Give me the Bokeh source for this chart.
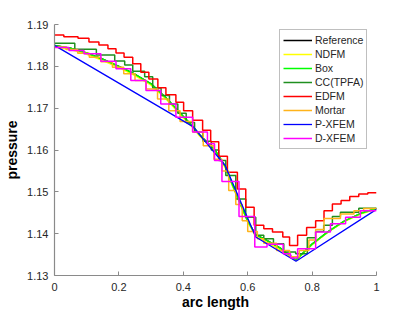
from bokeh.plotting import figure
from bokeh.models import Range1d, FixedTicker
from bokeh.embed import file_html
from bokeh.resources import INLINE

# ---------------- data ----------------
x_ticks = [0, 0.2, 0.4, 0.6, 0.8, 1]
x_tick_labels = ["0", "0.2", "0.4", "0.6", "0.8", "1"]
y_ticks = [1.13, 1.14, 1.15, 1.16, 1.17, 1.18, 1.19]
y_tick_labels = ["1.13", "1.14", "1.15", "1.16", "1.17", "1.18", "1.19"]

ref_x = [0, 0.05, 0.1, 0.15, 0.2, 0.25, 0.3, 0.35, 0.4, 0.43, 0.45, 0.5,
         0.53, 0.55, 0.6, 0.625, 0.65, 0.7, 0.75, 0.8, 0.85, 0.9, 0.95, 1.0]
ref_y = [1.1850, 1.1843, 1.1832, 1.1817, 1.1800, 1.1781, 1.1758, 1.1722,
         1.1680, 1.1656, 1.1637, 1.1598, 1.1561, 1.1522, 1.1430, 1.1397,
         1.1388, 1.1366, 1.1337, 1.1375, 1.1405, 1.1430, 1.1448, 1.1460]

ndfm_y = [1.1846, 1.1840, 1.1829, 1.1814, 1.1797, 1.1778, 1.1755, 1.1719,
          1.1677, 1.1653, 1.1634, 1.1595, 1.1558, 1.1519, 1.1428, 1.1393,
          1.1383, 1.1362, 1.1336, 1.1374, 1.1404, 1.1429, 1.1447, 1.1459]

box_y = [1.1850, 1.1843, 1.1832, 1.1817, 1.1800, 1.1781, 1.1758, 1.1722,
         1.1680, 1.1656, 1.1637, 1.1598, 1.1561, 1.1522, 1.1430, 1.1397,
         1.1388, 1.1366, 1.1337, 1.1375, 1.1405, 1.1430, 1.1448, 1.1460]

cc_edges = [0, 0.063, 0.130, 0.187, 0.218, 0.243, 0.280, 0.305, 0.331, 0.357,
            0.383, 0.409, 0.435, 0.461, 0.487, 0.510, 0.532, 0.563, 0.594,
            0.625, 0.650, 0.680, 0.712, 0.749, 0.785, 0.811, 0.836, 0.863,
            0.888, 0.945, 1.0]
cc_vals = [1.1855, 1.1841, 1.1827, 1.1813, 1.1803, 1.1788, 1.1775, 1.1748,
           1.1730, 1.1710, 1.1688, 1.1666, 1.1643, 1.1621, 1.1600, 1.1575,
           1.1539, 1.1483, 1.1439, 1.1396, 1.1388, 1.1376, 1.1356, 1.1352,
           1.1390, 1.1405, 1.1420, 1.1441, 1.1451, 1.1461]

edfm_edges = [0, 0.029, 0.073, 0.107, 0.138, 0.166, 0.191, 0.216, 0.243,
              0.268, 0.293, 0.321, 0.346, 0.377, 0.401, 0.429, 0.460, 0.485,
              0.510, 0.537, 0.568, 0.594, 0.620, 0.650, 0.677, 0.709, 0.730,
              0.755, 0.783, 0.811, 0.837, 0.863, 0.890, 0.917, 0.945, 0.973, 1.0]
edfm_vals = [1.1875, 1.1871, 1.1867, 1.1858, 1.1851, 1.1842, 1.1832, 1.1822,
             1.1806, 1.1786, 1.1770, 1.1749, 1.1732, 1.1714, 1.1694, 1.1671,
             1.1647, 1.1620, 1.1585, 1.1547, 1.1507, 1.1463, 1.1420, 1.1412,
             1.1404, 1.1392, 1.1372, 1.1396, 1.1415, 1.1431, 1.1455, 1.1471,
             1.1479, 1.1489, 1.1495, 1.1498]

mortar_edges = [0, 0.036, 0.072, 0.108, 0.144, 0.180, 0.215, 0.250, 0.285,
                0.320, 0.355, 0.390, 0.429, 0.462, 0.495, 0.520, 0.541, 0.563,
                0.583, 0.600, 0.630, 0.650, 0.690, 0.730, 0.760, 0.790, 0.811,
                0.837, 0.888, 0.930, 0.960, 1.0]
mortar_vals = [1.1846, 1.1840, 1.1831, 1.1822, 1.1811, 1.1798, 1.1782, 1.1766,
               1.1746, 1.1722, 1.1694, 1.1668, 1.1643, 1.1610, 1.1578, 1.1550,
               1.1503, 1.1470, 1.1431, 1.1405, 1.1388, 1.1377, 1.1360, 1.1345,
               1.1360, 1.1385, 1.1410, 1.1436, 1.1447, 1.1455, 1.1460]

pxfem_x = [0, 0.43, 0.53, 0.625, 0.75, 1.0]
pxfem_y = [1.1850, 1.1656, 1.1563, 1.1392, 1.1334, 1.1458]

dxfem_edges = [0, 0.045, 0.0915, 0.144, 0.191, 0.237, 0.284, 0.330, 0.377,
               0.429, 0.475, 0.497, 0.520, 0.573, 0.622, 0.660, 0.710, 0.733,
               0.755, 0.811, 0.857, 0.904, 0.950, 1.0]
dxfem_vals = [1.1845, 1.1838, 1.1830, 1.1812, 1.1794, 1.1766, 1.1742, 1.1710,
              1.1678, 1.1643, 1.1615, 1.1575, 1.1525, 1.1441, 1.1368, 1.1375,
              1.1352, 1.1342, 1.1364, 1.1404, 1.1424, 1.1439, 1.1455]

# ---------------- figure ----------------
FONT = "Liberation Sans"
p = figure(width=415, height=312, output_backend="svg", toolbar_location=None,
           x_range=Range1d(0, 1), y_range=Range1d(1.13, 1.19),
           min_border_left=54, min_border_right=39,
           min_border_top=24, min_border_bottom=37)
p.grid.visible = False
p.outline_line_color = None

LW = 1.5
p.line(ref_x, ref_y, color="black", line_width=LW, legend_label="Reference")
p.line(ref_x, ndfm_y, color="#ffff00", line_width=LW, legend_label="NDFM")
p.line(ref_x, box_y, color="#00ff00", line_width=LW, legend_label="Box")
p.step(cc_edges, cc_vals + [cc_vals[-1]], mode="after", color="#1f8f1f",
       line_width=LW, legend_label="CC(TPFA)")
p.step(edfm_edges, edfm_vals + [edfm_vals[-1]], mode="after", color="#ff0000",
       line_width=LW, legend_label="EDFM")
p.step(mortar_edges, mortar_vals + [mortar_vals[-1]], mode="after",
       color="#ffb31a", line_width=LW, legend_label="Mortar")
p.line(pxfem_x, pxfem_y, color="#0000ff", line_width=1.3, legend_label="P-XFEM")
p.step(dxfem_edges, dxfem_vals + [dxfem_vals[-1]], mode="after",
       color="#ff00ff", line_width=LW, legend_label="D-XFEM")

for ax, ticks, labels in ((p.xaxis, x_ticks, x_tick_labels),
                          (p.yaxis, y_ticks, y_tick_labels)):
    ax.ticker = FixedTicker(ticks=ticks)
    ax.major_label_overrides = {t: l for t, l in zip(ticks, labels)}
    ax.minor_tick_line_color = None
    ax.major_tick_in = 4
    ax.major_tick_out = 0
    ax.axis_line_color = "#8a8a8a"
    ax.axis_line_width = 1.2
    ax.major_tick_line_color = "#8a8a8a"
    ax.major_label_text_font = FONT
    ax.major_label_text_font_size = "11px"
    ax.major_label_text_color = "#262626"
    ax.axis_label_text_font = FONT
    ax.axis_label_text_font_style = "bold"
    ax.axis_label_text_font_size = "14px"
    ax.axis_label_text_color = "black"

p.xaxis.axis_label = "arc length"
p.yaxis.axis_label = "pressure"
p.xaxis.major_label_standoff = 7
p.xaxis.axis_label_standoff = 0
p.yaxis.major_label_standoff = 6
p.yaxis.axis_label_standoff = 4

lg = p.legend[0]
lg.location = (225, 126)
lg.label_text_font = FONT
lg.label_text_font_size = "10.5px"
lg.label_text_color = "#262626"
lg.label_height = 14
lg.glyph_height = 14
lg.glyph_width = 29
lg.label_standoff = 3
lg.spacing = 0
lg.padding = 3
lg.margin = 0
lg.border_line_color = "#808080"
lg.border_line_width = 1
lg.background_fill_alpha = 1.0

open("out.html", "w").write(file_html(p, INLINE))
